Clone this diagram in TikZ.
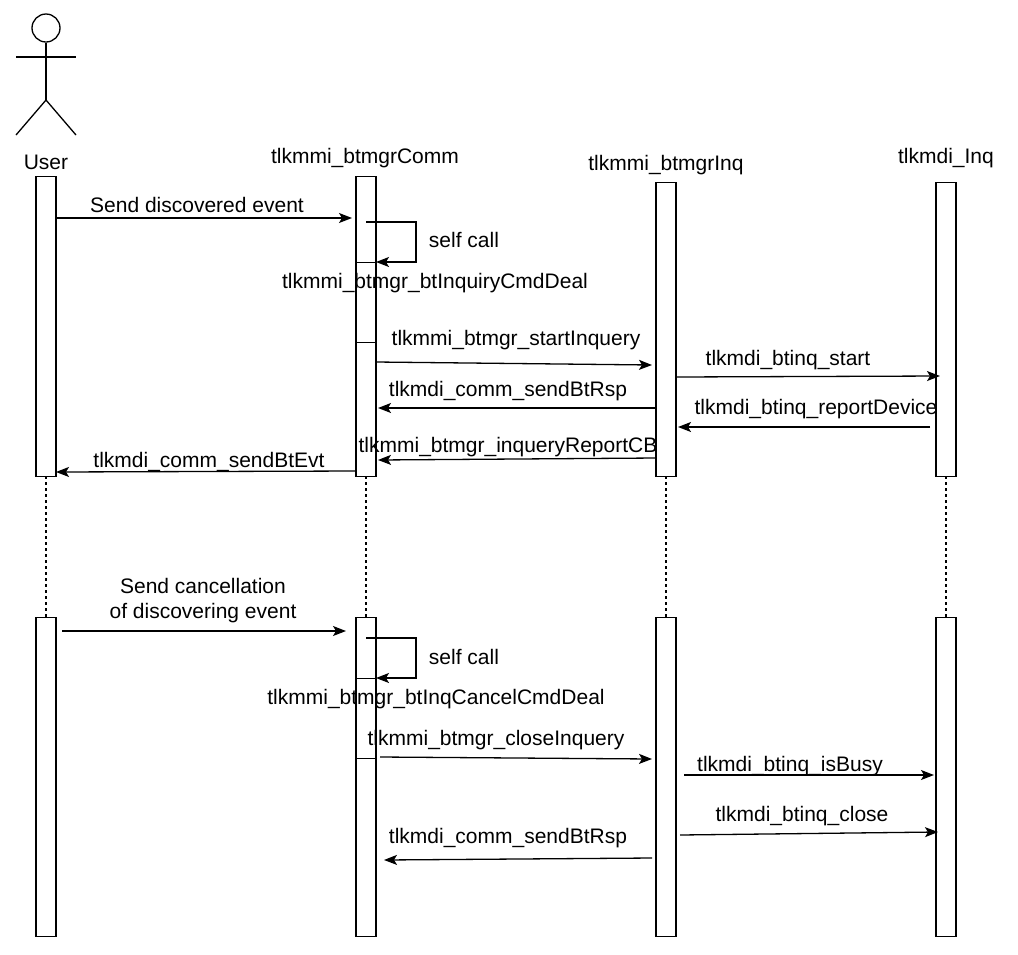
\documentclass[tikz,border=0pt]{standalone}
\usepackage{fontspec}
\setmainfont{Liberation Sans}
\usetikzlibrary{arrows.meta}
\begin{document}
\begin{tikzpicture}[x=1pt,y=-1pt,line width=1.3pt,
 msg/.style={-{Stealth[length=13pt,width=10pt,inset=3pt]}},
 lbl/.style={font=\fontsize{21}{25}\selectfont,inner sep=0pt},
 act/.style={draw,fill=white},
 life/.style={dashed,dash pattern=on 3pt off 3pt}]
\useasboundingbox (0,0) rectangle (1018,954);
% actor
\node[draw,circle,minimum size=28pt,inner sep=0pt] (head) at (46,28) {};
\coordinate (hip) at (46,100);
\draw (head.south) -- (hip);
\coordinate (al) at (16,57); \coordinate (ar) at (76,57);
\draw (al) -- (ar);
\coordinate (ll) at (16,135); \coordinate (lr) at (76,135);
\draw (ll) -- (hip) -- (lr);
\node[lbl] (uname) at (46,162) {User};
\node[lbl] (cname) at (365,158) {tlkmmi\_btmgrComm};
\node[lbl] (iname) at (666,165) {tlkmmi\_btmgrInq};
\node[lbl] (dname) at (946,158) {tlkmdi\_Inq};
% lifelines
\foreach \n/\x/\t in {u/46/176,c/366/176,i/666/182,d/946/182}{
  \coordinate (\n t) at (\x,476); \coordinate (\n b) at (\x,617);
  \draw[life] (\n t) -- (\n b);
  \node[act,minimum width=20pt,minimum height={476-\t},inner sep=0pt,anchor=north] (\n A) at (\x,\t) {};
  \node[act,minimum width=20pt,minimum height=319pt,inner sep=0pt,anchor=north] (\n B) at (\x,617) {};
}
\node[act,minimum width=20pt,minimum height=80pt,inner sep=0pt,anchor=north] (cN1) at (366,262) {};
\node[act,minimum width=20pt,minimum height=80pt,inner sep=0pt,anchor=north] (cN2) at (366,678) {};
% part 1
\draw[msg] (56,218) -- (352,218);
\node[lbl] (m1) at (197,205) {Send discovered event};
\coordinate (s1a) at (366,222); \coordinate (s1b) at (416,222); \coordinate (s1c) at (416,262);
\draw[msg] (s1a) -- (s1b) -- (s1c) -- (376,262);
\node[lbl] (sc1) at (464,240) {self call};
\node[lbl] (f1) at (435,283) {tlkmmi\_btmgr\_btInquiryCmdDeal};
\draw[msg] (376,362) -- (652,365);
\node[lbl] (m2) at (516,340) {tlkmmi\_btmgr\_startInquery};
\draw[msg] (676,377) -- (940,376);
\node[lbl] (m3) at (788,360) {tlkmdi\_btinq\_start};
\draw[msg] (656,408) -- (378,408);
\node[lbl] (m4) at (508,391) {tlkmdi\_comm\_sendBtRsp};
\draw[msg] (930,427) -- (678,427);
\node[lbl] (m5) at (816,409) {tlkmdi\_btinq\_reportDevice};
\draw[msg] (656,458) -- (378,460);
\node[lbl] (m6) at (508,447) {tlkmmi\_btmgr\_inqueryReportCB};
\draw[msg] (356,471) -- (56,472);
\node[lbl] (m7) at (209,462) {tlkmdi\_comm\_sendBtEvt};
% part 2
\draw[msg] (62,631) -- (346,631);
\node[lbl,align=center] (m8) at (203,601) {Send cancellation\\of discovering event};
\coordinate (s2a) at (366,638); \coordinate (s2b) at (416,638); \coordinate (s2c) at (416,678);
\draw[msg] (s2a) -- (s2b) -- (s2c) -- (376,678);
\node[lbl] (sc2) at (464,657) {self call};
\node[lbl] (f2) at (436,699) {tlkmmi\_btmgr\_btInqCancelCmdDeal};
\draw[msg] (380,757) -- (652,759);
\node[lbl] (m9) at (496,740) {tlkmmi\_btmgr\_closeInquery};
\draw[msg] (684,775) -- (934,775);
\node[lbl] (m10) at (790,766) {tlkmdi\_btinq\_isBusy};
\draw[msg] (680,835) -- (938,832);
\node[lbl] (m11) at (802,816) {tlkmdi\_btinq\_close};
\draw[msg] (652,858) -- (384,860);
\node[lbl] (m12) at (508,838) {tlkmdi\_comm\_sendBtRsp};
\end{tikzpicture}
\end{document}
